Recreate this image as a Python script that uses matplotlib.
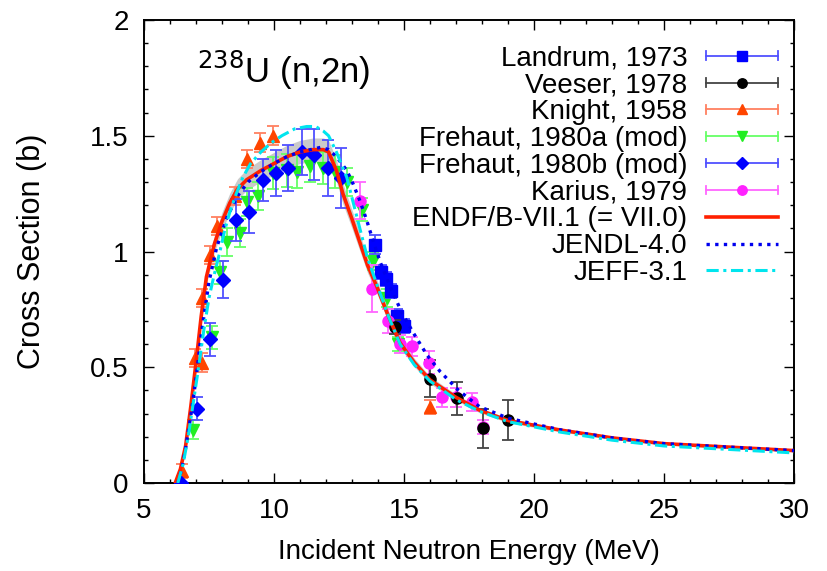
import numpy as np
import matplotlib
matplotlib.use("Agg")
import matplotlib.pyplot as plt
from matplotlib.lines import Line2D
from matplotlib.legend_handler import HandlerBase
from matplotlib.ticker import MultipleLocator

plt.rcParams['font.family'] = ['Liberation Sans', 'DejaVu Sans']

# ---------------- data ----------------
endf_E = [6.2, 6.4, 6.6, 6.8, 7.0, 7.2, 7.4, 7.7, 8.0, 8.3, 8.6, 8.95, 9.5, 10.0, 10.5, 11.0, 11.5, 11.9, 12.1,
          12.4, 12.65, 13.0, 13.3, 13.6, 13.95, 14.4, 14.85, 15.4, 16.0, 17.0, 17.9, 19.0, 21.0, 23.0, 25.0, 27.5, 30.0]
endf_s = [0.0, 0.06, 0.16, 0.33, 0.52, 0.72, 0.89, 1.03, 1.13, 1.21, 1.27, 1.31, 1.35, 1.38, 1.41, 1.43, 1.44, 1.44, 1.43,
          1.35, 1.25, 1.14, 1.04, 0.94, 0.85, 0.72, 0.605, 0.52, 0.445, 0.37, 0.315, 0.27, 0.229, 0.195, 0.17, 0.155, 0.14]

jendl_E = [6.3, 6.45, 6.6, 6.8, 7.0, 7.2, 7.5, 7.8, 8.2, 8.6, 9.0, 9.5, 10.0, 10.5, 11.0, 11.4, 11.8, 12.1, 12.4,
           12.8, 13.05, 13.3, 13.55, 13.8, 14.1, 14.5, 14.9, 15.35, 15.9, 16.4, 17.1, 17.9, 19.0, 21.0, 23.0, 25.0, 27.5, 30.0]
jendl_s = [0.0, 0.06, 0.15, 0.29, 0.45, 0.64, 0.87, 1.02, 1.15, 1.24, 1.30, 1.345, 1.38, 1.41, 1.43, 1.44, 1.45, 1.44, 1.41,
           1.35, 1.29, 1.22, 1.14, 1.05, 0.95, 0.84, 0.74, 0.65, 0.55, 0.48, 0.40, 0.33, 0.28, 0.23, 0.195, 0.17, 0.155, 0.14]

jeff_E = [6.3, 6.5, 6.7, 6.9, 7.1, 7.3, 7.5, 7.7, 7.9, 8.1, 8.3, 8.55, 8.8, 9.1, 9.5, 9.9, 10.3, 10.8, 11.26, 11.6,
          11.9, 12.1, 12.4, 12.8, 13.05, 13.3, 13.6, 13.95, 14.4, 14.85, 15.4, 16.0, 17.0, 17.9, 19.0, 21.0, 23.0, 25.0, 27.5, 30.0]
jeff_s = [0.0, 0.08, 0.2, 0.35, 0.5, 0.66, 0.8, 0.9, 0.99, 1.09, 1.17, 1.25, 1.32, 1.38, 1.43, 1.47, 1.50, 1.53, 1.54, 1.54,
          1.52, 1.50, 1.43, 1.32, 1.21, 1.10, 0.97, 0.86, 0.72, 0.60, 0.51, 0.44, 0.36, 0.31, 0.265, 0.22, 0.185, 0.16, 0.145, 0.13]

landrum_E = [13.9, 14.1, 14.3, 14.5, 14.75, 15.0]
landrum_s = [1.03, 0.91, 0.88, 0.83, 0.72, 0.68]
landrum_err = [0.04, 0.03, 0.03, 0.03, 0.03, 0.03]

veeser_E = [14.65, 16.0, 17.03, 18.03, 19.0]
veeser_s = [0.675, 0.45, 0.366, 0.236, 0.272]
veeser_err = [0.03, 0.08, 0.072, 0.083, 0.086]

knight_E = [6.45, 6.96, 7.22, 7.22, 7.54, 7.8, 8.5, 8.95, 9.46, 9.96, 16.0]
knight_s = [0.05, 0.54, 0.52, 0.80, 0.985, 1.11, 1.24, 1.40, 1.47, 1.50, 0.33]
knight_err = [0.03, 0.04, 0.04, 0.04, 0.04, 0.04, 0.04, 0.04, 0.04, 0.04, 0.03]

frehauta_E = [6.87, 7.6, 7.92, 8.18, 8.69, 8.95, 9.4, 9.97, 10.49, 10.87, 11.38, 11.9, 12.35, 12.8, 13.37, 13.8, 14.33, 14.78]
frehauta_s = [0.23, 0.63, 0.91, 1.04, 1.08, 1.215, 1.24, 1.34, 1.35, 1.345, 1.37, 1.36, 1.345, 1.30, 1.18, 0.96, 0.80, 0.60]
frehauta_err = [0.04, 0.05, 0.05, 0.06, 0.06, 0.06, 0.06, 0.07, 0.07, 0.07, 0.07, 0.07, 0.07, 0.06, 0.05, 0.04, 0.04, 0.03]

frehautb_E = [6.42, 7.03, 7.54, 8.05, 8.54, 9.04, 9.56, 10.06, 10.55, 11.06, 11.54, 12.09, 12.56]
frehautb_s = [0.0, 0.32, 0.62, 0.877, 1.135, 1.17, 1.31, 1.34, 1.36, 1.43, 1.417, 1.36, 1.316]
frehautb_err = [0.0, 0.05, 0.07, 0.08, 0.09, 0.09, 0.09, 0.10, 0.10, 0.10, 0.11, 0.12, 0.13]

karius_E = [13.3, 13.78, 14.4, 14.85, 15.3, 15.95, 16.45, 17.0, 17.6, 18.05]
karius_s = [1.22, 0.84, 0.70, 0.60, 0.59, 0.52, 0.37, 0.37, 0.35, 0.24]
karius_err = [0.08, 0.10, 0.05, 0.04, 0.04, 0.05, 0.04, 0.04, 0.04, 0.03]

band_rel = 0.035

xticks = [5, 10, 15, 20, 25, 30]
yticks = [0, 0.5, 1, 1.5, 2]
yticklabels = ['0', '0.5', '1', '1.5', '2']

# ---------------- figure ----------------
fig = plt.figure(figsize=(8.28, 5.71), dpi=100)
ax = fig.add_axes([144/828, 1-483/571, (794-144)/828, (483-20)/571])

# uncertainty band
ee = np.array(endf_E); ss = np.array(endf_s)
ax.fill_between(ee, ss*(1-band_rel), ss*(1+band_rel), color='#a8a8a8', alpha=0.6, lw=0, zorder=1)

exp_sets = [
    ('Landrum, 1973', landrum_E, landrum_s, landrum_err, 's', '#0000ff', '#5050ff', 8),
    ('Veeser, 1978', veeser_E, veeser_s, veeser_err, 'o', '#000000', '#444444', 8),
    ('Knight, 1958', knight_E, knight_s, knight_err, '^', '#ff4500', '#ff8060', 8),
    ('Frehaut, 1980a (mod)', frehauta_E, frehauta_s, frehauta_err, 'v', '#22ee22', '#66ff66', 8),
    ('Frehaut, 1980b (mod)', frehautb_E, frehautb_s, frehautb_err, 'D', '#0000ff', '#5050ff', 7),
    ('Karius, 1979', karius_E, karius_s, karius_err, 'o', '#ff22ff', '#ff66ff', 8),
]

zo = {'Knight, 1958': 3, 'Frehaut, 1980a (mod)': 3.2, 'Frehaut, 1980b (mod)': 3.4,
      'Landrum, 1973': 3.6, 'Karius, 1979': 3.8, 'Veeser, 1978': 3.9}
for lab, E, s, err, m, c, ec, ms in exp_sets:
    ax.errorbar(E, s, yerr=err, fmt=m, color=c, ecolor=ec, ms=ms, mec=c,
                elinewidth=1.3, capsize=4, capthick=1.3, zorder=zo[lab])

ax.plot(endf_E, endf_s, color='#ff2000', lw=2.6, zorder=5)
ax.plot(jendl_E, jendl_s, color='#0000ee', lw=2.4, ls=(0, (1, 1.6)), zorder=5)
ax.plot(jeff_E, jeff_s, color='#00e5ee', lw=2.2, ls=(0, (4, 1.5, 1, 1.5)), zorder=5)

ax.set_xlim(5, 30)
ax.set_ylim(0, 2)
ax.set_xticks(xticks)
ax.set_yticks(yticks)
ax.set_yticklabels(yticklabels)
ax.xaxis.set_minor_locator(MultipleLocator(1))
ax.yaxis.set_minor_locator(MultipleLocator(0.1))
ax.tick_params(which='both', direction='in', top=True, right=True, labelsize=20, pad=11, width=1)
ax.tick_params(which='major', length=7)
ax.tick_params(which='minor', length=3)
for sp in ax.spines.values():
    sp.set_linewidth(1.4)

ax.set_xlabel('Incident Neutron Energy (MeV)', fontsize=20)
ax.set_ylabel('Cross Section (b)', fontsize=22)
ax.xaxis.label.set_va('center')
ax.yaxis.label.set_va('center')
ax.xaxis.set_label_coords(0.5, (483-552)/463)
ax.yaxis.set_label_coords((32-144)/650, 0.5)

ax.text(0.082, 0.892, r'$^{238}$U (n,2n)', transform=ax.transAxes, fontsize=25,
        ha='left', va='center')

# ---------------- legend (gnuplot style) ----------------
class GPHandler(HandlerBase):
    def __init__(self, kind, **kw):
        super().__init__(**kw)
        self.kind = kind

    def create_artists(self, legend, orig, xd, yd, width, height, fontsize, trans):
        y = height/2 - yd
        x0, x1 = -xd, width - xd
        arts = []
        k = self.kind
        if k[0] == 'exp':
            _, m, c, ec, ms = k
            arts.append(Line2D([x0, x1], [y, y], color=ec, lw=1.3, transform=trans))
            cap = 0.22*height
            arts.append(Line2D([x0, x0], [y-cap, y+cap], color=ec, lw=1.3, transform=trans))
            arts.append(Line2D([x1, x1], [y-cap, y+cap], color=ec, lw=1.3, transform=trans))
            arts.append(Line2D([(x0+x1)/2], [y], marker=m, color=c, ms=ms, ls='none', transform=trans))
        else:
            _, c, lw, ls = k
            arts.append(Line2D([x0, x1], [y, y], color=c, lw=lw, ls=ls, transform=trans))
        return arts

handles, labels, hmap = [], [], {}
for lab, E, s, err, m, c, ec, ms in exp_sets:
    h = Line2D([], [])
    handles.append(h); labels.append(lab)
    hmap[h] = GPHandler(('exp', m, c, ec, ms*0.85))
for lab, c, lw, ls in [('ENDF/B-VII.1 (= VII.0)', '#ff2000', 2.6, '-'),
                       ('JENDL-4.0', '#0000ee', 2.4, (0, (1, 1.6))),
                       ('JEFF-3.1', '#00e5ee', 2.2, (0, (4, 1.5, 1, 1.5)))]:
    h = Line2D([], [])
    handles.append(h); labels.append(lab)
    hmap[h] = GPHandler(('line', c, lw, ls))

leg = ax.legend(handles, labels, handler_map=hmap, loc='upper right',
                bbox_to_anchor=(0.975, 0.945), frameon=False, markerfirst=False,
                fontsize=20, labelspacing=0.03, handlelength=2.6, handletextpad=0.65,
                borderaxespad=0.0, borderpad=0.0)
for t in leg.get_texts():
    t.set_ha('right')

fig.savefig('out.png', dpi=100)
